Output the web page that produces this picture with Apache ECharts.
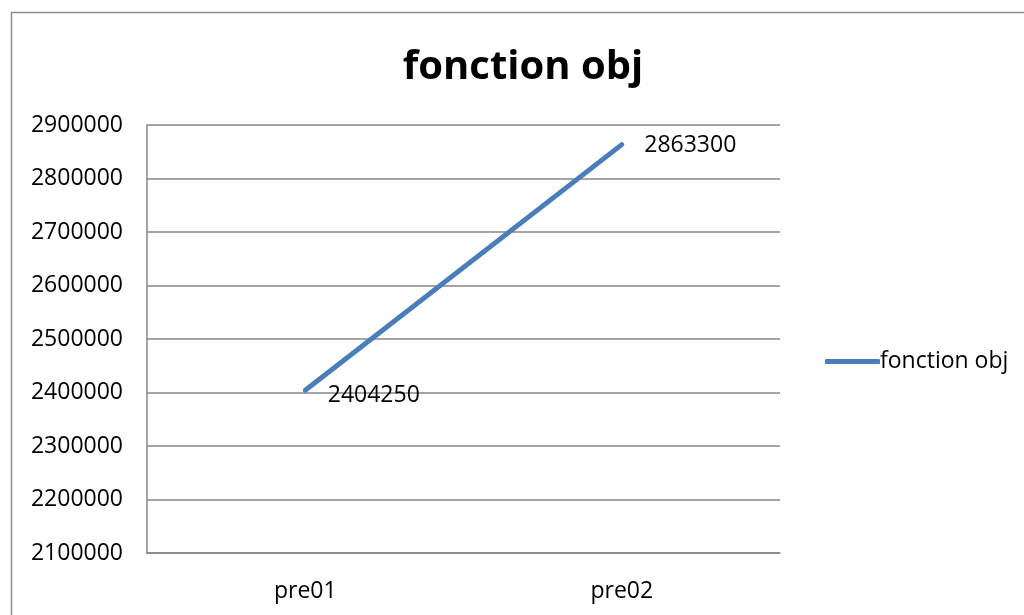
<!DOCTYPE html>
<html>
<head>
<meta charset="utf-8">
<script src="https://cdn.jsdelivr.net/npm/echarts@6/dist/echarts.min.js"></script>
<style>
  html, body { margin: 0; padding: 0; background: #fff; }
  #chart { width: 1024px; height: 615px; }
</style>
</head>
<body>
<div id="chart"></div>
<script>
// données
const categories = ['pre01', 'pre02'];
const fonctionObj = [2404250, 2863300];
const yMin = 2100000;
const yMax = 2900000;
const yStep = 100000;

const chart = echarts.init(document.getElementById('chart'));

const font = "'Open Sans', 'Liberation Sans', sans-serif";
const txt = 23;

// décalage vertical des étiquettes (style uniquement)
const labelOffsets = [[0, 5], [0, 1]];

chart.setOption({
  animation: false,
  textStyle: { fontFamily: font },
  title: {
    text: 'fonction obj',
    left: 518,
    top: 43,
    textAlign: 'center',
    textStyle: { fontSize: 40, fontWeight: 'bold', color: '#000', fontFamily: font }
  },
  legend: {
    left: 820,
    top: 345,
    itemWidth: 55,
    itemHeight: 5,
    itemGap: 0,
    icon: 'roundRect',
    textStyle: { fontSize: txt, color: '#000', padding: [0, 0, 0, -5] },
    data: ['fonction obj']
  },
  graphic: [{
    type: 'rect',
    shape: { x: 11.5, y: 12.5, width: 1100, height: 700 },
    style: { fill: 'none', stroke: '#8c8c8c', lineWidth: 1.5 },
    silent: true
  }],
  grid: { left: 147, top: 125, width: 633, height: 428 },
  xAxis: {
    type: 'category',
    data: categories,
    boundaryGap: true,
    axisLine: { lineStyle: { color: '#868686', width: 1.5 } },
    axisTick: { show: false },
    axisLabel: { fontSize: txt, color: '#000', margin: 27 }
  },
  yAxis: {
    type: 'value',
    min: yMin,
    max: yMax,
    interval: yStep,
    axisLine: { show: true, lineStyle: { color: '#868686', width: 1.5 } },
    axisTick: { show: false },
    axisLabel: { fontSize: txt, color: '#000', margin: 24, padding: [4, 0, 0, 0], formatter: v => String(v) },
    splitLine: { lineStyle: { color: '#868686', width: 1.5 } }
  },
  series: [{
    name: 'fonction obj',
    type: 'line',
    data: fonctionObj.map((v, i) => ({ value: v, label: { offset: labelOffsets[i] } })),
    symbol: 'circle',
    symbolSize: 1,
    showSymbol: true,
    lineStyle: { color: '#4a7ebb', width: 5, cap: 'round' },
    itemStyle: { color: '#4a7ebb' },
    label: {
      show: true,
      position: 'right',
      distance: 22,
      fontSize: txt,
      color: '#000',
      formatter: p => String(p.value)
    }
  }]
});
</script>
</body>
</html>
